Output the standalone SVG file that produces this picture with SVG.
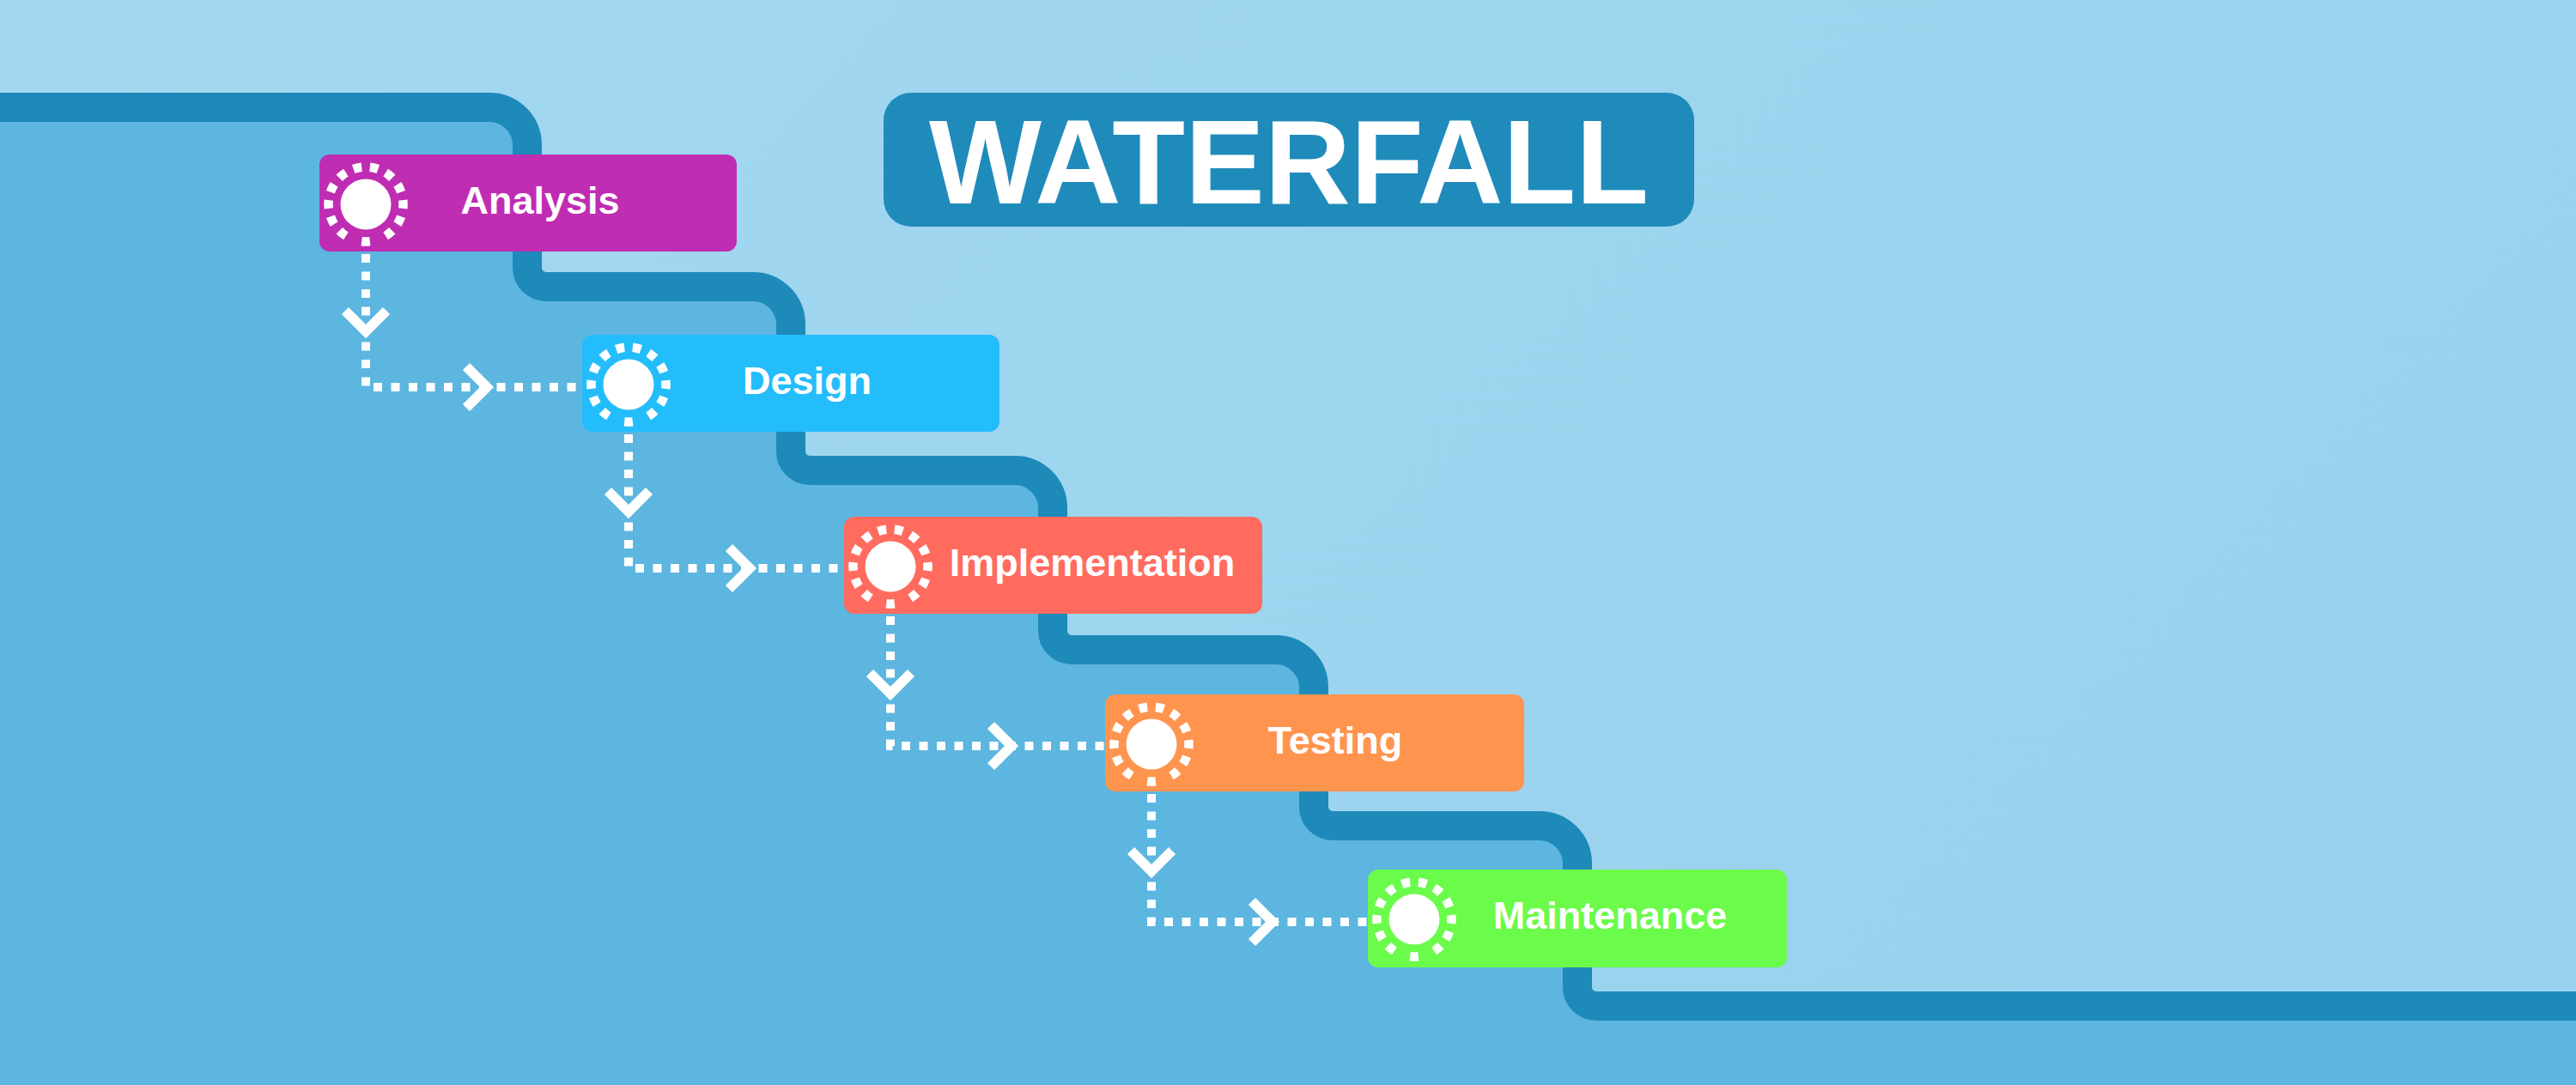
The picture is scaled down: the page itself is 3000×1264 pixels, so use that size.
<svg xmlns="http://www.w3.org/2000/svg" xmlns:xlink="http://www.w3.org/1999/xlink" width="3000" height="1264" viewBox="0 0 3000 1264">
  <style>
    .band { fill: none; stroke: #1e8aba; stroke-width: 34; }
    .node-label { font-family: "Liberation Sans", Arial, sans-serif; font-weight: bold; font-size: 45px; fill: #ffffff; text-anchor: middle; }
    .title { font-family: "Liberation Sans", Arial, sans-serif; font-weight: bold; font-size: 140px; fill: #ffffff; text-anchor: middle; }
    .dots { fill: none; stroke: #ffffff; stroke-width: 10; stroke-dasharray: 10 10.5; }
    .chev { fill: none; stroke: #ffffff; stroke-width: 11.5; stroke-linejoin: miter; }
  </style>
  <defs>
    <linearGradient id="sky" x1="0" y1="0" x2="1" y2="0.4">
      <stop offset="0" stop-color="#a3d8f0"/>
      <stop offset="1" stop-color="#99d2ee"/>
    </linearGradient>
    <g id="sun">
      <circle cx="0" cy="0" r="29.5" fill="#ffffff"/>
      <circle cx="0" cy="0" r="43.5" fill="none" stroke="#ffffff" stroke-width="10.5" pathLength="28" stroke-dashoffset="0.5" stroke-dasharray="1 1 1 1 1 2 1 2 1 1 1 1 1 1 1 1 1 1 1 1 1 1 1 1 1 1"/>
    </g>
  </defs>

  <!-- background -->
  <rect x="0" y="0" width="3000" height="1264" fill="url(#sky)"/>
  <path d="M0,125 H570 A44,44 0 0 1 614,169 V312 A22,22 0 0 0 636,334 H877 A44,44 0 0 1 921,378 V526 A22,22 0 0 0 943,548 H1182 A44,44 0 0 1 1226,592 V735 A22,22 0 0 0 1248,757 H1486 A44,44 0 0 1 1530,801 V940 A22,22 0 0 0 1552,962 H1793 A44,44 0 0 1 1837,1006 V1150 A22,22 0 0 0 1859,1172 H3000 V1264 H0 Z" fill="#5cb6e0"/>
  <path class="band" d="M0,125 H570 A44,44 0 0 1 614,169 V312 A22,22 0 0 0 636,334 H877 A44,44 0 0 1 921,378 V526 A22,22 0 0 0 943,548 H1182 A44,44 0 0 1 1226,592 V735 A22,22 0 0 0 1248,757 H1486 A44,44 0 0 1 1530,801 V940 A22,22 0 0 0 1552,962 H1793 A44,44 0 0 1 1837,1006 V1150 A22,22 0 0 0 1859,1172 H3000"/>

  <!-- title -->
  <g id="title">
    <rect x="1029" y="108" width="944" height="156" rx="32" fill="#1f8bbb"/>
    <text class="title" x="1501" y="237" textLength="838" lengthAdjust="spacingAndGlyphs">WATERFALL</text>
  </g>

  <!-- connectors -->
  <g id="connectors">
    <path class="dots" d="M426,296 V451 H685"/>
    <polyline class="chev" points="402,362 426,386 450,362"/>
    <polyline class="chev" points="543,427 567,451 543,475"/>

    <path class="dots" d="M732,506 V662 H990"/>
    <polyline class="chev" points="708,572 732,596 756,572"/>
    <polyline class="chev" points="849,638 873,662 849,686"/>

    <path class="dots" d="M1037,718 V869 H1294"/>
    <polyline class="chev" points="1013,784 1037,808 1061,784"/>
    <polyline class="chev" points="1154,845 1178,869 1154,893"/>

    <path class="dots" d="M1341,925 V1074 H1600"/>
    <polyline class="chev" points="1317,991 1341,1015 1365,991"/>
    <polyline class="chev" points="1458,1050 1482,1074 1458,1098"/>
  </g>

  <!-- nodes -->
  <g id="analysis">
    <rect x="372" y="180" width="486" height="113" rx="12" fill="#bf2db3"/>
    <use xlink:href="#sun" href="#sun" x="426" y="238"/>
    <text class="node-label" x="629" y="249">Analysis</text>
  </g>
  <g id="design">
    <rect x="678" y="390" width="486" height="113" rx="12" fill="#24bdfb"/>
    <use xlink:href="#sun" href="#sun" x="732" y="448"/>
    <text class="node-label" x="940" y="459">Design</text>
  </g>
  <g id="implementation">
    <rect x="983" y="602" width="487" height="113" rx="12" fill="#ff6b5f"/>
    <use xlink:href="#sun" href="#sun" x="1037" y="660"/>
    <text class="node-label" x="1272" y="671">Implementation</text>
  </g>
  <g id="testing">
    <rect x="1287" y="809" width="488" height="113" rx="12" fill="#ff944f"/>
    <use xlink:href="#sun" href="#sun" x="1341" y="867"/>
    <text class="node-label" x="1555" y="878">Testing</text>
  </g>
  <g id="maintenance">
    <rect x="1593" y="1013" width="488" height="114" rx="12" fill="#6afb4b"/>
    <use xlink:href="#sun" href="#sun" x="1647" y="1071"/>
    <text class="node-label" x="1875" y="1082">Maintenance</text>
  </g>
</svg>
